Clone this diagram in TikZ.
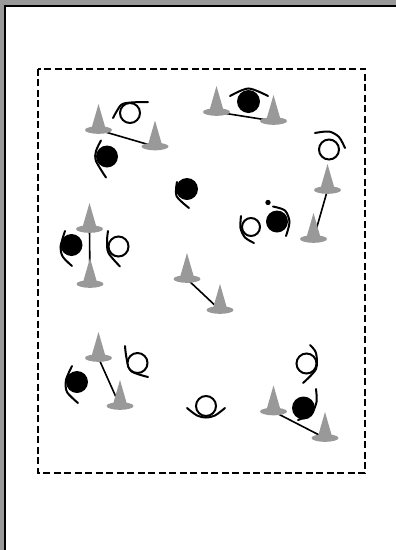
\documentclass[tikz,border=0pt]{standalone}
\begin{document}
\begin{tikzpicture}[x=1pt,y=-1pt,
  conecol/.style={fill=black!40},
  link/.style={line width=1.6pt},
  arm/.style={line width=2pt, line cap=round},
  openhead/.style={line width=2pt, fill=white},
  fullhead/.style={fill=black},
  cone/.pic={
    \fill[conecol] (0,-26) -- (7.5,0) -- (-7.5,0) -- cycle;
    \fill[conecol] (0,0) ellipse [x radius=13.5, y radius=3.8];
  }]
\useasboundingbox (0,0) rectangle (396,550);
% frame
\fill[black!40] (0,0) rectangle (396,5);
\fill[black!40] (0,0) rectangle (4,550);
\fill[black] (4,5) rectangle (396,7.3);
\fill[black] (4,5) rectangle (6.3,550);
% field
\draw[line width=2pt, dash pattern=on 7pt off 3.5pt] (37.5,68.5) rectangle (365,472.5);
% cone positions (base centres)
\coordinate (c1) at (98.5,130);
\coordinate (c2) at (155,146.5);
\coordinate (c3) at (216.5,112);
\coordinate (c4) at (273.5,121);
\coordinate (c5) at (327.5,190);
\coordinate (c6) at (313.5,239);
\coordinate (c7) at (89.5,229);
\coordinate (c8) at (90,284);
\coordinate (c9) at (187,279);
\coordinate (c10) at (220,310);
\coordinate (c11) at (98.5,358);
\coordinate (c12) at (120,406);
\coordinate (c13) at (273.5,411.5);
\coordinate (c14) at (325,438);
% links
\draw[link] (c1) -- (c2);
\draw[link] (c3) -- (c4);
\draw[link] (c5) -- (c6);
\draw[link] (c7) -- (c8);
\draw[link] (c9) -- (c10);
\draw[link] (c11) -- (c12);
\draw[link] (c13) -- (c14);
% cones
\foreach \c in {c1,c2,c3,c4,c5,c6,c7,c8,c9,c10,c11,c12,c13,c14}
  \pic at (\c) {cone};
% players: filled
\fill[fullhead] (107,156.5) circle [radius=11];
\draw[arm] plot[smooth] coordinates {(101,140.5) (96,151) (96,161) (106,177.5)};
\fill[fullhead] (248.5,101.5) circle [radius=11.5];
\draw[arm] plot[smooth] coordinates {(230,96) (248.5,88.5) (268,96)};
\fill[fullhead] (277,221.5) circle [radius=11];
\draw[arm] plot[smooth] coordinates {(273,206.5) (285,210.5) (289.5,222) (286,236)};
\fill[fullhead] (268,202.5) circle [radius=2.7];
\fill[fullhead] (187,189) circle [radius=11];
\draw[arm] plot[smooth] coordinates {(177,182) (176.5,196) (189,208)};
\fill[fullhead] (71.5,245) circle [radius=11];
\draw[arm] plot[smooth] coordinates {(65,231) (60.5,247) (63,257) (72,266)};
\fill[fullhead] (77,382) circle [radius=11];
\draw[arm] plot[smooth] coordinates {(72,366) (66,380) (67,392) (78,403)};
\fill[fullhead] (303.5,408) circle [radius=11.5];
\draw[arm] plot[smooth] coordinates {(316,389) (316.5,402) (311,414) (298,420)};
% players: open
\draw[arm] plot[smooth] coordinates {(113,118) (121,105) (131,102.5) (148,102)};
\draw[openhead] (130,113) circle [radius=10];
\draw[arm] plot[smooth] coordinates {(315,133) (329,131.5) (339,137) (345,148)};
\draw[openhead] (329,149.5) circle [radius=10];
\draw[arm] plot[smooth] coordinates {(241,216) (240.5,228) (245,237.5) (254,243)};
\draw[openhead] (251,227) circle [radius=9];
\draw[arm] plot[smooth] coordinates {(108,231) (107,241) (108.5,253) (120,266.5)};
\draw[openhead] (118.5,246.5) circle [radius=10];
\draw[arm] plot[smooth] coordinates {(125,346) (126.5,358) (131,371) (148,377)};
\draw[openhead] (137.5,363) circle [radius=10];
\draw[arm] plot[smooth] coordinates {(187,408) (197,415.5) (206,417.5) (215,415.5) (225,408)};
\draw[openhead] (206,406) circle [radius=10];
\draw[arm] plot[smooth] coordinates {(310,345) (316,353) (316,369) (303,383)};
\draw[openhead] (306.5,363.5) circle [radius=10];
\end{tikzpicture}
\end{document}
